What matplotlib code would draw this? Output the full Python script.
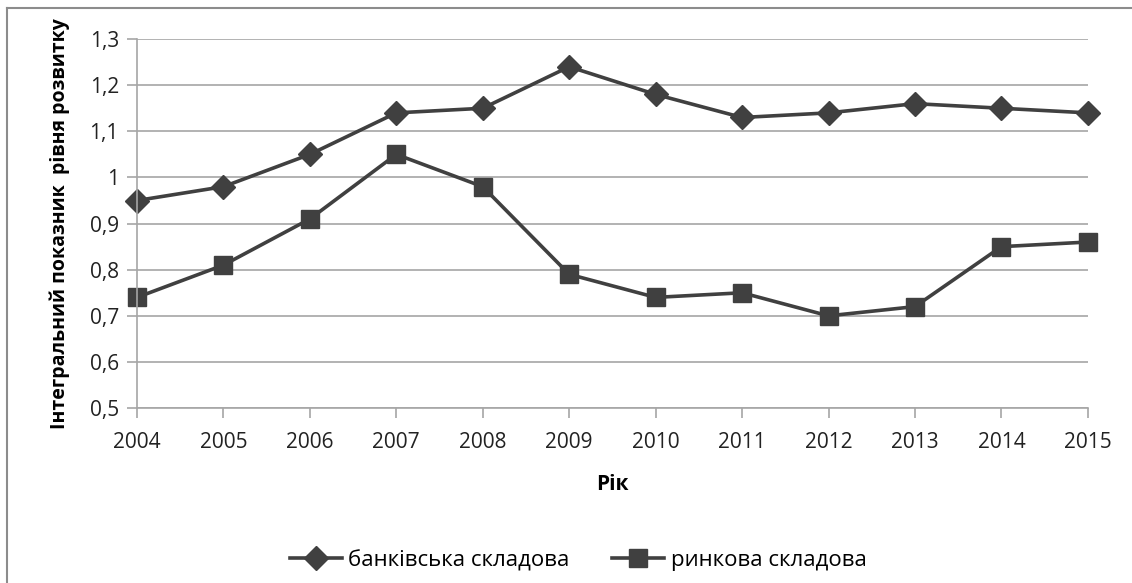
import matplotlib.pyplot as plt
from matplotlib.lines import Line2D

years = ['2004', '2005', '2006', '2007', '2008', '2009',
         '2010', '2011', '2012', '2013', '2014', '2015']
bank = [0.95, 0.98, 1.05, 1.14, 1.15, 1.24, 1.18, 1.13, 1.14, 1.16, 1.15, 1.14]
market = [0.74, 0.81, 0.91, 1.05, 0.98, 0.79, 0.74, 0.75, 0.70, 0.72, 0.85, 0.86]
yticks = [0.5, 0.6, 0.7, 0.8, 0.9, 1.0, 1.1, 1.2, 1.3]
ytick_labels = ['0,5', '0,6', '0,7', '0,8', '0,9', '1', '1,1', '1,2', '1,3']

plt.rcParams['font.family'] = ['Open Sans', 'DejaVu Sans']
line_col = '#404040'
grid_col = '#a6a6a6'

fig = plt.figure(figsize=(11.32, 5.83), dpi=100)
ax = fig.add_axes([0.121, 0.300, 0.840, 0.633])

x = range(len(years))
ax.plot(x, bank, color=line_col, lw=2.6, marker='D', ms=12, clip_on=False,
        label='банківська складова')
ax.plot(x, market, color=line_col, lw=2.6, marker='s', ms=13, clip_on=False,
        label='ринкова складова')

ax.set_xlim(0, len(years) - 1)
ax.set_ylim(0.5, 1.3)
ax.set_xticks(list(x))
ax.set_xticklabels(years)
ax.set_yticks(yticks)
ax.set_yticklabels(ytick_labels)
ax.yaxis.grid(True, color=grid_col, lw=1.2)
ax.set_axisbelow(True)

for s in ['top', 'right']:
    ax.spines[s].set_visible(False)
for s in ['left', 'bottom']:
    ax.spines[s].set_color(grid_col)
    ax.spines[s].set_linewidth(1.2)
ax.tick_params(axis='both', colors=grid_col, length=7, width=1.2,
               labelcolor='#222222', labelsize=15)
ax.tick_params(axis='x', pad=10)
ax.tick_params(axis='y', pad=6)

ax.set_xlabel('Рік', fontsize=15, fontweight='bold', labelpad=15)
ax.set_ylabel('Інтегральний показник  рівня розвитку', fontsize=14,
              fontweight='bold', labelpad=14)

ax.legend(loc='upper center', bbox_to_anchor=(0.464, -0.33), ncol=2,
          frameon=False, fontsize=16, handlelength=2.35, columnspacing=1.9,
          handletextpad=0.3)

# outer chart frame
fig.add_artist(Line2D([7 / 1132, 7 / 1132], [0, 1 - 8 / 583],
                      color='#8c8c8c', lw=1.5))
fig.add_artist(Line2D([7 / 1132, 1], [1 - 8 / 583, 1 - 8 / 583],
                      color='#8c8c8c', lw=1.5))

fig.savefig('out.png', dpi=100)
